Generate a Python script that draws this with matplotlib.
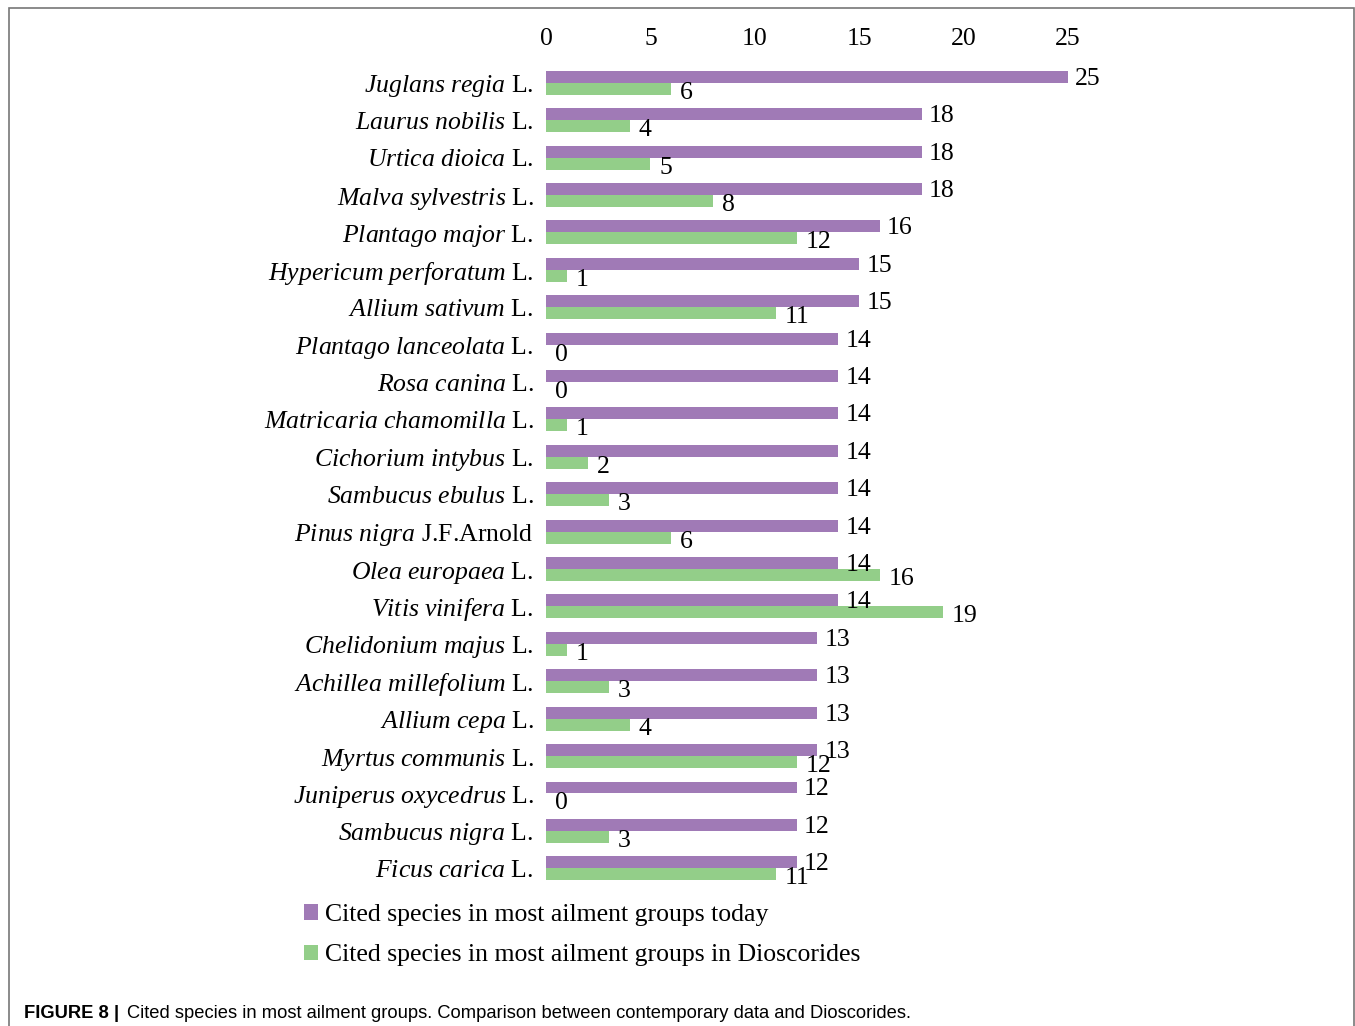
import matplotlib.pyplot as plt
import numpy as np
from matplotlib.patches import Rectangle
from matplotlib.transforms import offset_copy

genus = ["Juglans regia", "Laurus nobilis", "Urtica dioica", "Malva sylvestris",
         "Plantago major", "Hypericum perforatum", "Allium sativum",
         "Plantago lanceolata", "Rosa canina", "Matricaria chamomilla",
         "Cichorium intybus", "Sambucus ebulus", "Pinus nigra", "Olea europaea",
         "Vitis vinifera", "Chelidonium majus", "Achillea millefolium",
         "Allium cepa", "Myrtus communis", "Juniperus oxycedrus",
         "Sambucus nigra", "Ficus carica"]
authority = ["L."] * 12 + ["J.F.Arnold"] + ["L."] * 9
today = [25, 18, 18, 18, 16, 15, 15, 14, 14, 14, 14, 14, 14, 14, 14,
         13, 13, 13, 13, 12, 12, 12]
dioscorides = [6, 4, 5, 8, 12, 1, 11, 0, 0, 1, 2, 3, 6, 16, 19,
               1, 3, 4, 12, 0, 3, 11]
ticks = [0, 5, 10, 15, 20, 25]

purple = "#A07AB6"
green = "#93CE89"
serif = "Liberation Serif"
fs = 18.5

plt.rcParams["mathtext.fontset"] = "custom"
plt.rcParams["mathtext.rm"] = "Liberation Serif"
plt.rcParams["mathtext.it"] = "Liberation Serif:italic"

fig = plt.figure(figsize=(13.55, 10.26), dpi=100)
ax = fig.add_axes([0.403, 0.1355, 0.3852, 0.802])

y = np.arange(len(genus))
h = 0.32
ax.barh(y - h / 2, today, height=h, color=purple, label="Cited species in most ailment groups today")
ax.barh(y + h / 2, dioscorides, height=h, color=green,
        label="Cited species in most ailment groups in Dioscorides")

up = offset_copy(ax.transData, fig=fig, x=7, y=-2, units="dots")
down = offset_copy(ax.transData, fig=fig, x=9, y=-4, units="dots")
for i in y:
    ax.text(today[i], i - h / 2, str(today[i]), transform=up, ha="left", va="center",
            family=serif, fontsize=fs)
    ax.text(dioscorides[i], i + h / 2, str(dioscorides[i]), transform=down, ha="left",
            va="center", family=serif, fontsize=fs)

ax.set_xlim(0, 25)
ax.set_ylim(len(genus) - 0.5, -0.5)
ax.set_xticks(ticks)
ax.set_xticklabels([str(t) for t in ticks], family=serif, fontsize=fs)
ax.xaxis.tick_top()
ax.tick_params(axis="x", length=0, pad=10)
ax.set_yticks(y)
ax.set_yticklabels([f"$\\it{{{g.replace(' ', '~')}}}$ {a}" for g, a in zip(genus, authority)],
                   family=serif, fontsize=fs)
ax.tick_params(axis="y", length=0, pad=9)
for s in ax.spines.values():
    s.set_visible(False)

leg = fig.legend(loc="upper left", bbox_to_anchor=(0.2075, 0.1415), frameon=False,
                 prop={"family": serif, "size": fs}, handlelength=0.55, handleheight=0.55,
                 handletextpad=0.25, labelspacing=0.72)

fig.text(0.018, 0.0075, r"FIGURE 8 |", family="Liberation Sans", weight="bold", fontsize=13.2)
fig.text(0.0937, 0.0075, "Cited species in most ailment groups. Comparison between contemporary data and Dioscorides.",
         family="Liberation Sans", fontsize=13.2)

fig.patches.append(Rectangle((0.0066, -0.01), 0.9927, 1.002, transform=fig.transFigure,
                             fill=False, edgecolor="#777777", linewidth=1.2))

fig.savefig("out.png", dpi=100)
